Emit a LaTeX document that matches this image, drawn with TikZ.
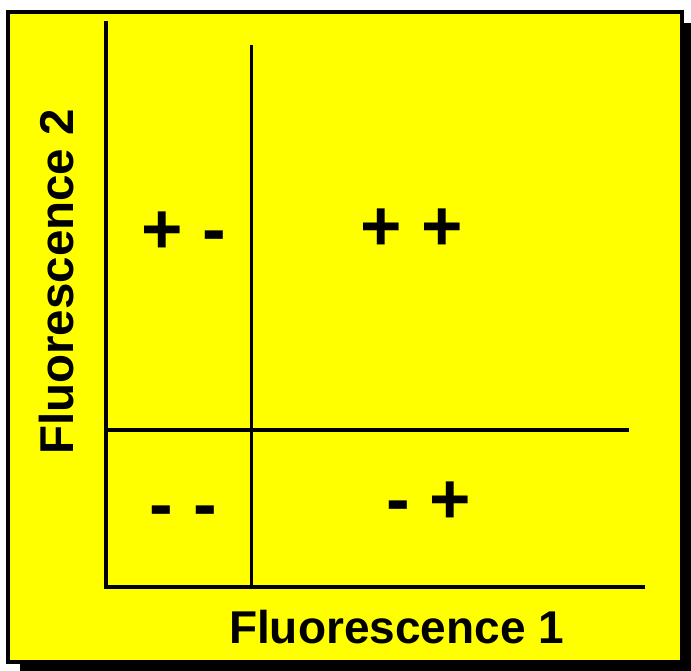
\documentclass[tikz,border=0pt]{standalone}
\usepackage{fontspec}
\setmainfont{Liberation Sans}
\definecolor{panelyellow}{RGB}{255,255,0}
\begin{document}
\begin{tikzpicture}[x=1pt,y=-1pt,
  rule/.style={line width=3.6pt, line cap=rect},
  sym/.style={font=\fontsize{71}{71}\selectfont\bfseries, inner sep=0pt, anchor=base},
  axislabel/.style={font=\fontsize{46}{46}\selectfont\bfseries, inner sep=0pt, anchor=base}]
\useasboundingbox (0,0) rectangle (691,671);
% shadow and panel
\fill[black] (20,23) rectangle (700,680);
\draw[fill=panelyellow, line width=4pt] (8,12) rectangle (682,662);
% coordinates
\coordinate (ytop) at (106,23);
\coordinate (origin) at (106,587);
\coordinate (xend) at (643,587);
\coordinate (vtop) at (251.5,47);
\coordinate (vbot) at (251.5,587);
\coordinate (hleft) at (106,430);
\coordinate (hright) at (627,430);
% axes
\draw[rule] (ytop) -- (origin) -- (xend);
% gates
\draw[rule] (vtop) -- (vbot);
\draw[rule] (hleft) -- (hright);
% quadrant labels
\node[sym] (pm) at (183.5,254) {+ -};
\node[sym] (pp) at (412,251) {+ +};
\node[sym] (mm) at (183.5,528) {- -};
\node[sym] (mp) at (429,523) {- +};
% axis labels
\node[axislabel] (xlab) at (396.5,643) {Fluorescence 1};
\node[axislabel, font=\fontsize{47.5}{47.5}\selectfont\bfseries, rotate=90] (ylab) at (73,282) {Fluorescence 2};
\end{tikzpicture}
\end{document}
